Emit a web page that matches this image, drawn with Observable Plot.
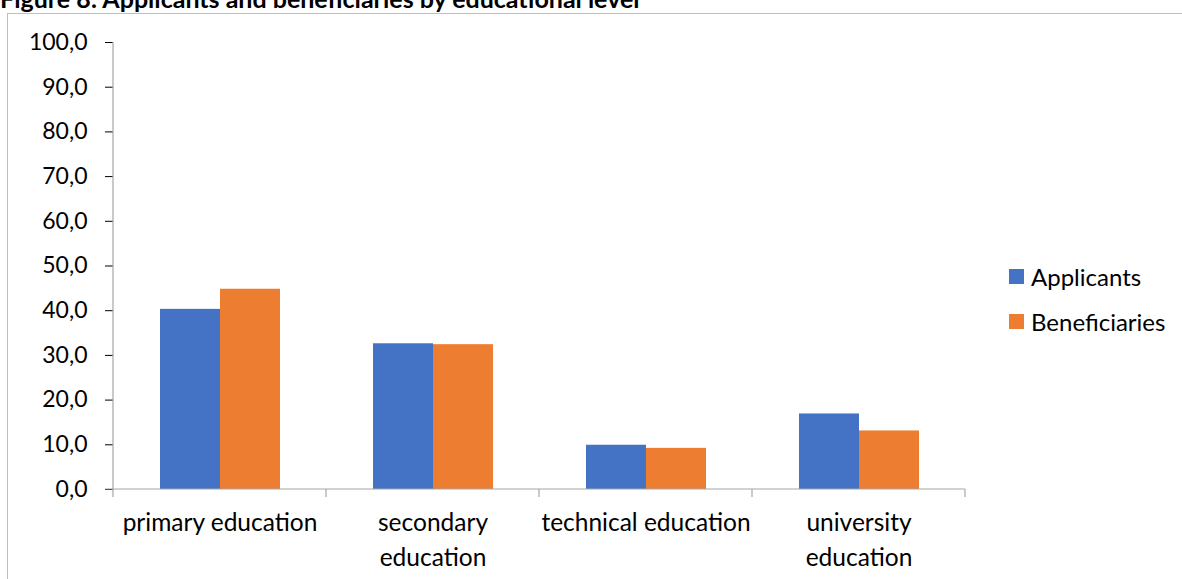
<!DOCTYPE html>
<html>
<head>
<meta charset="utf-8">
<script src="https://cdn.jsdelivr.net/npm/d3@7"></script>
<script src="https://cdn.jsdelivr.net/npm/@observablehq/plot@0.6"></script>
<style>
  html, body { margin: 0; padding: 0; background: #fff; }
  #wrap { position: relative; width: 1182px; height: 579px; overflow: hidden; font-family: Lato, "Open Sans", sans-serif; }
  #title { position: absolute; left: 0; top: -14px; font-size: 25px; line-height: 25px; font-weight: bold; color: #000; white-space: nowrap; }
  #frame { position: absolute; left: 7px; top: 13px; width: 1300px; height: 700px; border-left: 1px solid #bfbfbf; border-top: 1px solid #bfbfbf; }
  #chart { position: absolute; left: 0; top: 0; }
  #legend { position: absolute; left: 1009px; top: 254px; font-size: 24px; color: #000; }
  .li { display: flex; align-items: center; height: 45px; }
  .sw { width: 15px; height: 15px; margin-right: 7px; }
  g[aria-label="y-axis tick"] { stroke: #a6a6a6; }
</style>
</head>
<body>
<div id="wrap">
  <div id="frame"></div>
  <div id="title">Figure 8: Applicants and beneficiaries by educational level</div>
  <div id="chart"></div>
  <div id="legend"></div>
</div>
<script>
const categories = ["primary education", "secondary education", "technical education", "university education"];
const categoryLabels = ["primary education", "secondary\neducation", "technical education", "university\neducation"];
const series = ["Applicants", "Beneficiaries"];
const applicants = [40.3, 32.6, 9.9, 16.9];
const beneficiaries = [44.8, 32.4, 9.2, 13.1];
const colors = ["#4472C4", "#ED7D31"];
const yTicks = [0, 10, 20, 30, 40, 50, 60, 70, 80, 90, 100];

const data = [];
categories.forEach((c, i) => {
  data.push({category: c, series: series[0], value: applicants[i]});
  data.push({category: c, series: series[1], value: beneficiaries[i]});
});
const labelOf = new Map(categories.map((c, i) => [c, categoryLabels[i]]));

const chart = Plot.plot({
  width: 1182,
  height: 579,
  marginLeft: 112,
  marginRight: 216,
  marginTop: 42,
  marginBottom: 90,
  style: {fontSize: "23px", fontFamily: "Lato, 'Open Sans', sans-serif", color: "#000", background: "transparent", overflow: "visible"},
  fx: {domain: categories, paddingInner: 0, paddingOuter: 0, axis: null, label: null},
  x: {domain: series, paddingInner: 0, paddingOuter: 0.75, axis: null, label: null},
  y: {domain: [0, 100], ticks: yTicks, tickSize: 8, tickPadding: 18, label: null,
      tickFormat: d => d.toFixed(1).replace(".", ",")},
  color: {domain: series, range: colors},
  marks: [
    Plot.barY(data, {fx: "category", x: "series", y: "value", fill: "series"}),
    Plot.text(categories, {fx: d => d, text: d => labelOf.get(d), frameAnchor: "bottom",
      lineAnchor: "top", dy: 17, lineHeight: 1.41, fontSize: 24.5, fill: "#000", clip: false})
  ]
});
document.getElementById("chart").appendChild(chart);

// axis lines and category separators, placed through Plot's own scales
const fx = chart.scale("fx");
const y = chart.scale("y");
const svg = d3.select(chart);
const y0 = y.apply(0), yTop = y.apply(100);
const edges = categories.map(c => fx.apply(c));
edges.push(fx.apply(categories[categories.length - 1]) + fx.bandwidth);
const g = svg.append("g").attr("stroke", "#a6a6a6").attr("stroke-width", 1.2);
g.append("line").attr("x1", edges[0]).attr("x2", edges[0]).attr("y1", yTop).attr("y2", y0);
g.append("line").attr("x1", edges[0] - 8).attr("x2", edges[edges.length - 1]).attr("y1", y0).attr("y2", y0);
edges.forEach(e => g.append("line").attr("x1", e).attr("x2", e).attr("y1", y0).attr("y2", y0 + 8));

// legend
const legend = d3.select("#legend");
series.forEach((s, i) => {
  const row = legend.append("div").attr("class", "li");
  row.append("div").attr("class", "sw").style("background", colors[i]);
  row.append("span").text(s);
});
</script>
</body>
</html>
